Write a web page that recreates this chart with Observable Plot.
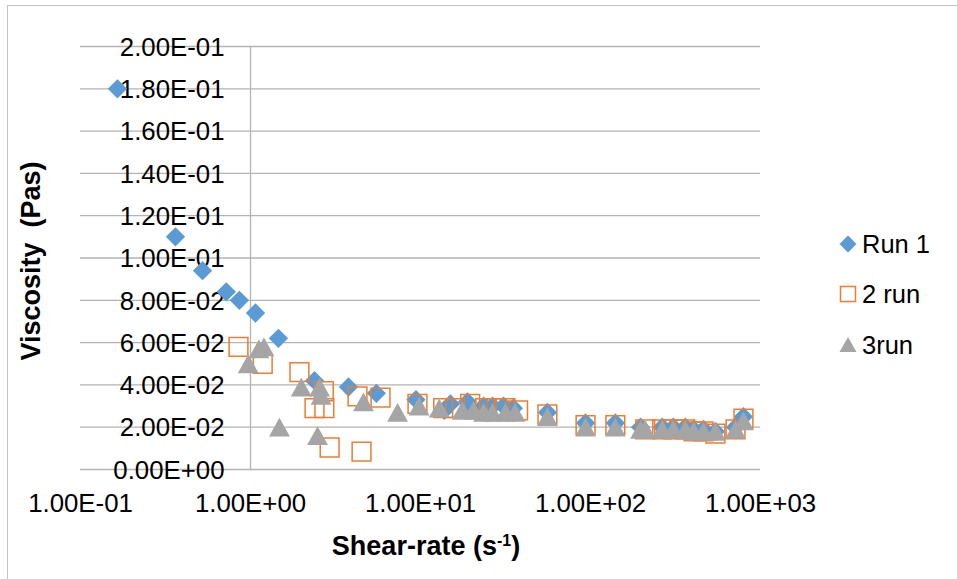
<!DOCTYPE html>
<html><head><meta charset="utf-8">
<script src="https://cdn.jsdelivr.net/npm/d3@7"></script>
<script src="https://cdn.jsdelivr.net/npm/@observablehq/plot@0.6"></script>
<style>
html,body{margin:0;padding:0;background:#fff;overflow:hidden;}
#wrap{position:relative;width:957px;height:579px;overflow:hidden;font-family:"Liberation Sans",Arial,sans-serif;color:#000;}
#frame{position:absolute;left:7px;top:5px;width:1100px;height:1100px;border-left:1.5px solid #c4c4c4;border-top:1.5px solid #c4c4c4;}
#chart{position:absolute;left:0;top:0;}
#ytitle{position:absolute;left:31px;top:261px;transform:translate(-50%,-50%) rotate(-90deg);font-weight:bold;font-size:27px;white-space:pre;line-height:1;}
#xtitle{position:absolute;left:426px;top:546px;transform:translate(-50%,-50%);font-weight:bold;font-size:27px;white-space:pre;line-height:1;}
#xtitle sup{font-size:16px;vertical-align:0.55em;line-height:0;}
.lg{position:absolute;left:838px;height:30px;display:flex;align-items:center;font-size:25.5px;white-space:pre;}
.lg svg{margin-right:4px;}
</style></head>
<body>
<div id="wrap">
  <div id="frame"></div>
  <div id="chart"></div>
  <div id="ytitle">Viscosity  (Pas)</div>
  <div id="xtitle">Shear-rate (s<sup>-1</sup>)</div>
  <div id="legend"></div>
</div>
<script>
// ---- data ----
const seriesNames = ["Run 1", "2 run", "3run"];

const shear1 = [0.165, 0.362, 0.522, 0.72, 0.86, 1.07, 1.46, 2.38, 3.77, 5.5, 9.4, 13.8, 15, 18.9, 23.5, 26.5, 30.8, 35.2, 55.8, 93.5, 140, 197, 264, 307, 361, 404, 462, 543, 713, 794];
const visc1  = [0.180, 0.110, 0.094, 0.084, 0.080, 0.074, 0.062, 0.042, 0.039, 0.036, 0.033, 0.028, 0.031, 0.032, 0.030, 0.030, 0.030, 0.029, 0.027, 0.022, 0.022, 0.020, 0.020, 0.020, 0.020, 0.019, 0.019, 0.018, 0.020, 0.025];

const shear2 = [0.85, 1.18, 1.94, 2.38, 2.72, 2.7, 2.92, 4.5, 4.26, 5.82, 9.6, 13.6, 16, 19.6, 24, 28, 31.6, 37.5, 55.8, 93.5, 140, 210, 264, 307, 361, 404, 462, 543, 713, 794];
const visc2  = [0.058, 0.050, 0.046, 0.029, 0.029, 0.037, 0.0104, 0.0085, 0.0346, 0.034, 0.031, 0.029, 0.029, 0.031, 0.029, 0.029, 0.029, 0.028, 0.026, 0.021, 0.021, 0.019, 0.019, 0.019, 0.019, 0.018, 0.018, 0.017, 0.019, 0.024];

const shear3 = [0.97, 1.12, 1.2, 1.48, 1.99, 2.48, 2.55, 2.6, 4.62, 7.33, 9.8, 12.9, 17.6, 20.5, 23.5, 26.5, 31.6, 36, 55.8, 93.5, 140, 197, 210, 264, 307, 361, 404, 462, 543, 713, 794];
const visc3  = [0.050, 0.057, 0.058, 0.020, 0.039, 0.016, 0.039, 0.035, 0.032, 0.027, 0.030, 0.029, 0.028, 0.028, 0.027, 0.027, 0.027, 0.027, 0.025, 0.020, 0.020, 0.019, 0.019, 0.019, 0.019, 0.019, 0.018, 0.018, 0.018, 0.019, 0.023];

const xTicks = [0.1, 1, 10, 100, 1000];
const xTickLabels = ["1.00E-01", "1.00E+00", "1.00E+01", "1.00E+02", "1.00E+03"];
const yTicks = [0, 0.02, 0.04, 0.06, 0.08, 0.10, 0.12, 0.14, 0.16, 0.18, 0.20];
const yTickLabels = ["0.00E+00", "2.00E-02", "4.00E-02", "6.00E-02", "8.00E-02", "1.00E-01", "1.20E-01", "1.40E-01", "1.60E-01", "1.80E-01", "2.00E-01"];

// ---- build tables ----
const toRows = (xs, ys) => xs.map((x, i) => ({x, y: ys[i]}));
const run1 = toRows(shear1, visc1);
const run2 = toRows(shear2, visc2);
const run3 = toRows(shear3, visc3);

const BLUE = "#5B9BD5", ORANGE = "#ED7D31", GRAY = "#A5A5A5", GRID = "#b3b3b3";

// Excel-like triangle (slightly taller than equilateral)
const excelTriangle = {
  draw(ctx, size) {
    const s = Math.sqrt(size);
    const w = s * 0.6, h = s * 0.54;
    ctx.moveTo(0, -h);
    ctx.lineTo(w, h);
    ctx.lineTo(-w, h);
    ctx.closePath();
  }
};

const chart = Plot.plot({
  width: 957, height: 579,
  marginLeft: 80, marginRight: 197, marginTop: 46, marginBottom: 110,
  style: {fontFamily: "'Liberation Sans', Arial, sans-serif", background: "transparent", overflow: "visible", color: "#000"},
  x: {type: "log", domain: [0.1, 1000], axis: null},
  y: {domain: [0, 0.2], axis: null},
  marks: [
    Plot.ruleY(yTicks, {stroke: GRID, strokeWidth: 1.3}),
    Plot.ruleX([1], {stroke: GRID, strokeWidth: 1.3}),
    Plot.text(yTicks, {x: yTicks.map(() => 1), y: d => d, text: (d, i) => yTickLabels[i], textAnchor: "end", dx: -26, dy: 1, fontSize: 25.8, fill: "#000"}),
    Plot.text(xTicks, {x: d => d, y: xTicks.map(() => 0), text: (d, i) => xTickLabels[i], dy: 34, fontSize: 25.8, fill: "#000"}),
    Plot.dot(run1, {x: "x", y: "y", symbol: "diamond2", r: 8.7, fill: BLUE, stroke: "none"}),
    Plot.dot(run2, {x: "x", y: "y", symbol: "square", r: 10.6, fill: "none", stroke: ORANGE, strokeWidth: 1.5}),
    Plot.dot(run3, {x: "x", y: "y", symbol: excelTriangle, r: 9.8, fill: GRAY, stroke: "none"})
  ]
});
document.getElementById("chart").appendChild(chart);

// ---- legend ----
const swatches = [
  `<svg width="20" height="20" viewBox="-10 -10 20 20"><polygon points="0,-8.5 8.5,0 0,8.5 -8.5,0" fill="${BLUE}"/></svg>`,
  `<svg width="20" height="20" viewBox="-10 -10 20 20"><rect x="-7.5" y="-7.5" width="15" height="15" fill="none" stroke="${ORANGE}" stroke-width="1.5"/></svg>`,
  `<svg width="20" height="20" viewBox="-10 -10 20 20"><polygon points="0,-8 8.5,7 -8.5,7" fill="${GRAY}"/></svg>`
];
const centers = [244, 294, 345];
const lg = document.getElementById("legend");
seriesNames.forEach((name, i) => {
  const row = document.createElement("div");
  row.className = "lg";
  row.style.top = (centers[i] - 15) + "px";
  row.innerHTML = swatches[i] + `<span>${name}</span>`;
  lg.appendChild(row);
});
</script>
</body></html>
